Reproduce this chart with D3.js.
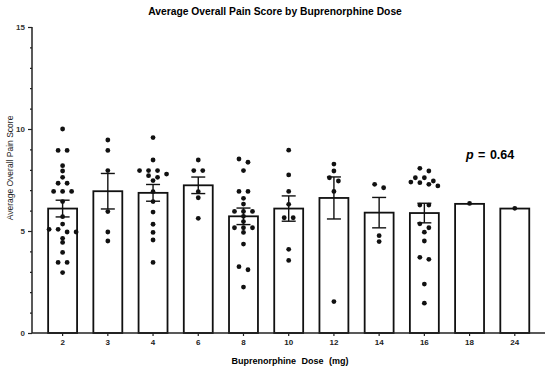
<!DOCTYPE html>
<html>
<head>
<meta charset="utf-8">
<script src="https://cdn.jsdelivr.net/npm/d3@7"></script>
<style>
  body { margin: 0; background: #fff; }
  svg { display: block; font-family: "Liberation Sans", Arial, sans-serif; }
</style>
</head>
<body>
<div id="chart"></div>
<script>
// doses (categories) and bar summary values
const doses = ["2", "3", "4", "6", "8", "10", "12", "14", "16", "18", "24"];
const means = [6.1, 6.95, 6.87, 7.24, 5.72, 6.1, 6.62, 5.9, 5.88, 6.33, 6.1];
const sems  = [0.41, 0.87, 0.41, 0.405, 0.405, 0.62, 1.03, 0.745, 0.48, 0, 0];

// individual patient scores per dose
const pts_2  = [10.0, 8.95, 8.95, 8.2, 7.94, 7.63, 7.34, 7.34, 6.94, 6.94, 6.94, 6.44, 5.7, 5.34, 5.08, 5.08, 4.95, 4.95, 4.64, 4.44, 3.95, 3.46, 3.46, 2.96];
const pts_3  = [9.46, 8.95, 7.96, 5.95, 4.95, 4.51];
const pts_4  = [9.58, 8.48, 7.96, 7.96, 7.96, 7.79, 7.71, 7.63, 7.47, 6.93, 6.44, 5.93, 5.33, 4.93, 4.56, 3.46];
const pts_6  = [8.48, 7.96, 7.96, 6.93, 6.63, 5.62];
const pts_8  = [8.53, 8.37, 7.96, 6.94, 6.94, 6.6, 6.32, 5.96, 5.96, 5.96, 5.72, 5.46, 5.16, 5.16, 5.16, 4.93, 4.36, 3.25, 3.1, 2.25];
const pts_10 = [8.96, 7.75, 6.94, 6.31, 5.65, 5.65, 4.1, 3.56];
const pts_12 = [8.28, 7.94, 7.61, 7.45, 6.94, 1.54];
const pts_14 = [7.29, 7.12, 4.77, 4.48];
const pts_16 = [8.07, 7.94, 7.61, 7.61, 7.45, 7.4, 7.37, 7.29, 7.21, 6.27, 6.27, 5.35, 5.16, 4.94, 4.51, 3.71, 3.61, 2.4, 1.46];
const pts_18 = [6.35];
const pts_24 = [6.11];
const points = [pts_2, pts_3, pts_4, pts_6, pts_8, pts_10, pts_12, pts_14, pts_16, pts_18, pts_24];

const yTicks = [0, 5, 10, 15];
const pValue = "0.64";

const W = 550, H = 371;
const axisX = 32, axisTop = 27, axisBottom = 333, axisRight = 545;

const svg = d3.select("#chart").append("svg")
  .attr("width", W).attr("height", H);

const x = d3.scaleBand()
  .domain(doses)
  .range([40, 537.4])
  .paddingInner(0.36)
  .paddingOuter(0.18);

const y = d3.scaleLinear()
  .domain([0, 15])
  .range([axisBottom, axisTop]);

// title
svg.append("text")
  .attr("x", 275).attr("y", 15)
  .attr("text-anchor", "middle")
  .style("font-weight", "bold")
  .style("font-size", "10.3px")
  .text("Average Overall Pain Score by Buprenorphine Dose");

// bars
svg.append("g").selectAll("rect")
  .data(doses)
  .join("rect")
  .attr("x", d => x(d))
  .attr("y", (d, i) => y(means[i]))
  .attr("width", x.bandwidth())
  .attr("height", (d, i) => axisBottom - y(means[i]))
  .attr("fill", "#fff")
  .attr("stroke", "#111")
  .attr("stroke-width", 1.8);

// dots, laid out in centred rows like a column scatter
const dotR = 2.4, dotGap = 9, rowTol = 4;
const dotData = [];
points.forEach(function(vals, i) {
  const sorted = vals.slice().sort((a, b) => b - a);
  let rows = [];
  sorted.forEach(function(v) {
    const last = rows[rows.length - 1];
    if (last && (y(v) - y(last[0])) < rowTol) last.push(v);
    else rows.push([v]);
  });
  const cx = x(doses[i]) + x.bandwidth() / 2;
  rows.forEach(function(row) {
    row.forEach(function(v, k) {
      dotData.push({ x: cx + (k - (row.length - 1) / 2) * dotGap, v: v });
    });
  });
});

svg.append("g").selectAll("circle")
  .data(dotData)
  .join("circle")
  .attr("cx", d => d.x)
  .attr("cy", d => y(d.v))
  .attr("r", dotR)
  .attr("fill", "#111");

// error bars (mean ± SEM)
const eb = svg.append("g").attr("stroke", "#111").attr("stroke-width", 1.4);
doses.forEach(function(d, i) {
  if (sems[i] <= 0) return;
  const cx = x(d) + x.bandwidth() / 2;
  const hi = y(means[i] + sems[i]), lo = y(means[i] - sems[i]);
  eb.append("line").attr("x1", cx).attr("x2", cx).attr("y1", hi).attr("y2", lo);
  eb.append("line").attr("x1", cx - 7).attr("x2", cx + 7).attr("y1", hi).attr("y2", hi);
  eb.append("line").attr("x1", cx - 7).attr("x2", cx + 7).attr("y1", lo).attr("y2", lo);
});

// y axis: major and minor ticks
const yMinor = d3.axisLeft(y).ticks(15).tickSize(2).tickFormat("").tickSizeOuter(0);
svg.append("g").attr("transform", "translate(" + axisX + ",0)").call(yMinor)
  .call(g => g.select(".domain").remove())
  .selectAll("line").attr("stroke", "#222").attr("stroke-width", 1.2);

const yAxis = d3.axisLeft(y).tickValues(yTicks).tickSize(4).tickSizeOuter(0).tickPadding(3);
svg.append("g").attr("transform", "translate(" + axisX + ",0)").call(yAxis)
  .call(g => g.select(".domain").remove())
  .call(g => g.selectAll("line").attr("stroke", "#222").attr("stroke-width", 1.2))
  .selectAll("text")
  .style("font-size", "8px").style("font-weight", "bold").attr("fill", "#333")
  .style("font-family", "Liberation Sans, Arial, sans-serif");

svg.append("line")
  .attr("x1", axisX).attr("x2", axisX).attr("y1", axisTop).attr("y2", axisBottom)
  .attr("stroke", "#222").attr("stroke-width", 1.5);

// x axis
const xAxis = d3.axisBottom(x).tickSize(3).tickSizeOuter(0).tickPadding(3);
svg.append("g").attr("transform", "translate(0," + axisBottom + ")").call(xAxis)
  .call(g => g.select(".domain").remove())
  .call(g => g.selectAll("line").attr("stroke", "#222").attr("stroke-width", 1.2))
  .selectAll("text")
  .style("font-size", "8px").style("font-weight", "bold").attr("fill", "#222")
  .style("font-family", "Liberation Sans, Arial, sans-serif");

svg.append("line")
  .attr("x1", axisX).attr("x2", axisRight).attr("y1", axisBottom).attr("y2", axisBottom)
  .attr("stroke", "#222").attr("stroke-width", 1.5);

// axis titles
svg.append("text")
  .attr("x", 290).attr("y", 364)
  .attr("text-anchor", "middle")
  .style("font-weight", "bold")
  .style("font-size", "9px")
  .style("word-spacing", "3px")
  .text("Buprenorphine Dose (mg)");

svg.append("text")
  .attr("transform", "translate(13," + 168 + ") rotate(-90)")
  .attr("text-anchor", "middle")
  .style("font-size", "8.5px")
  .attr("fill", "#222")
  .text("Average Overall Pain Score");

// p value annotation
const pText = svg.append("text")
  .attr("x", 466).attr("y", 159)
  .style("font-weight", "bold")
  .style("font-size", "12.5px")
  .style("word-spacing", "1px");
pText.append("tspan").style("font-style", "italic").text("p");
pText.append("tspan").text(" = " + pValue);
</script>
</body>
</html>
